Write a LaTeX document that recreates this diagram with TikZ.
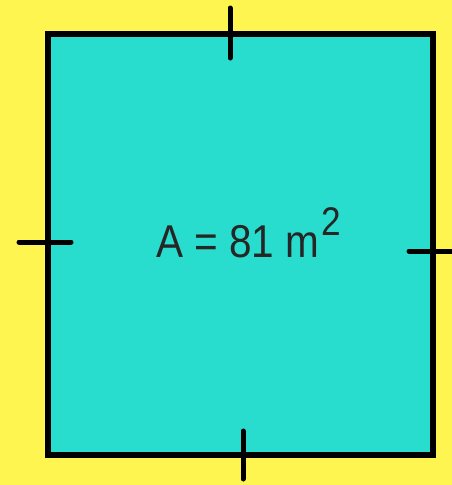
\documentclass[tikz,border=0pt]{standalone}
\usepackage{fontspec}
\setmainfont{Liberation Sans}
\definecolor{bgyellow}{RGB}{255,245,80}
\definecolor{sqcyan}{RGB}{40,220,206}
\begin{document}
\begin{tikzpicture}[x=1pt,y=-1pt,
  edge/.style={line width=6pt,line join=miter},
  tick/.style={line width=5pt,line cap=round}]
\fill[bgyellow] (0,0) rectangle (452,485);
\useasboundingbox (0,0) rectangle (452,485);
\draw[edge,fill=sqcyan] (48,33.5) rectangle (432.5,455);
\coordinate (t1) at (230,8); \coordinate (t2) at (230,58);
\coordinate (l1) at (19,242); \coordinate (l2) at (71,242);
\coordinate (r1) at (409,251); \coordinate (r2) at (456,251);
\coordinate (b1) at (243,431); \coordinate (b2) at (243,479);
\draw[tick] (t1) -- (t2);
\draw[tick] (l1) -- (l2);
\draw[tick] (r1) -- (r2);
\draw[tick] (b1) -- (b2);
\node[anchor=base west,inner sep=0pt,text=black!85,xscale=0.88] (lbl) at (156,257)
  {\fontsize{46}{54}\selectfont A = 81 m\kern2pt\raisebox{22pt}{\fontsize{40}{46}\selectfont 2}};
\end{tikzpicture}
\end{document}
